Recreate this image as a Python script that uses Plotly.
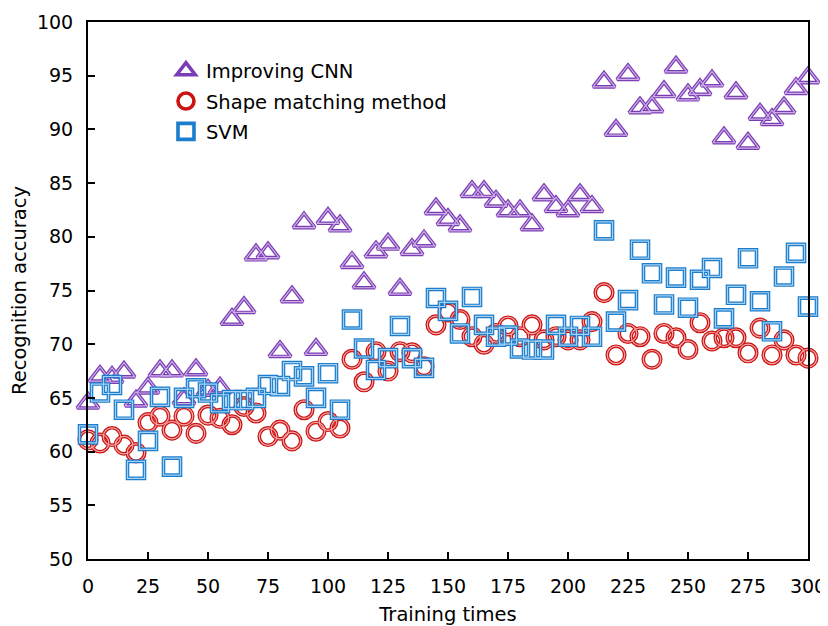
import plotly.graph_objects as go

x_vals = list(range(0, 301, 5))

cnn = [64.5, 67.0, 66.9, 67.4, 64.7, 65.9, 67.5, 67.5, 64.9, 67.6, 65.7, 65.9,
       72.3, 73.4, 78.3, 78.5, 69.3, 74.4, 81.3, 69.5, 81.7, 81.0, 77.6, 75.7,
       78.6, 79.3, 75.1, 78.8, 79.6, 82.6, 81.6, 81.0, 84.2, 84.2, 83.3, 82.4,
       82.4, 81.1, 83.9, 82.8, 82.4, 83.9, 82.8, 94.4, 89.9, 95.1, 92.0, 92.1,
       93.5, 95.8, 93.2, 93.7, 94.5, 89.2, 93.4, 88.7, 91.4, 90.9, 92.0, 93.8, 94.8]

shape = [61.1, 60.8, 61.4, 60.6, 59.9, 62.7, 63.3, 62.0, 63.3, 61.7, 63.4, 63.1,
         62.5, 64.2, 63.6, 61.4, 62.0, 61.0, 63.9, 61.9, 62.8, 62.2, 68.6, 66.5,
         69.3, 67.5, 69.3, 69.2, 67.9, 71.8, 73.0, 72.3, 70.7, 70.0, 71.0, 71.7,
         70.7, 71.8, 70.4, 70.7, 70.4, 70.4, 72.1, 74.8, 69.0, 71.0, 70.7, 68.6,
         71.0, 70.6, 69.5, 72.0, 70.3, 70.6, 70.6, 69.2, 71.5, 69.0, 70.4, 69.0, 68.7]

svm = [61.6, 65.5, 66.2, 63.9, 58.3, 61.0, 65.1, 58.6, 65.0, 65.9, 65.5, 64.5,
       64.8, 64.8, 65.0, 66.2, 66.1, 67.5, 67.0, 65.0, 67.3, 63.9, 72.3, 69.6,
       67.6, 68.7, 71.7, 68.7, 67.8, 74.3, 73.1, 71.0, 74.4, 71.8, 70.7, 70.8,
       69.6, 69.5, 69.5, 71.8, 70.7, 71.7, 70.7, 80.6, 72.1, 74.1, 78.8, 76.6,
       73.7, 76.2, 73.4, 76.0, 77.1, 72.4, 74.6, 78.0, 74.0, 71.2, 76.3, 78.5, 73.5]

series = [
    ("Improving CNN", cnn, "triangle-up-open", 19, "#7B3DB5", "#CDB0E6"),
    ("Shape matching method", shape, "circle-open", 17.5, "#CC1212", "#F4A8A8"),
    ("SVM", svm, "square-open", 17, "#1B7DCB", "#A6D0F2"),
]

x_ticks = list(range(0, 301, 25))
y_ticks = list(range(50, 101, 5))

FONT = "DejaVu Sans"

fig = go.Figure()
for i, (name, vals, sym, size, dark, light) in enumerate(series):
    fig.add_trace(go.Scatter(
        x=x_vals, y=vals, mode="markers", name=name,
        legendgroup=name, legendrank=i,
        marker=dict(symbol=sym, size=size, color=dark, line=dict(width=3.6, color=dark)),
        cliponaxis=False,
    ))
    fig.add_trace(go.Scatter(
        x=x_vals, y=vals, mode="markers", name=name,
        legendgroup=name, showlegend=False,
        marker=dict(symbol=sym, size=size, color=light, line=dict(width=1.2, color=light)),
        cliponaxis=False, hoverinfo="skip",
    ))

axis_common = dict(
    showgrid=False, zeroline=False, showline=True, linecolor="black", linewidth=2,
    mirror=True, ticks="inside", ticklen=7, tickwidth=1.5, tickcolor="black",
    tickfont=dict(family=FONT, size=19, color="black"), automargin=False,
)

fig.update_xaxes(range=[0, 300], tickvals=x_ticks, ticktext=[str(t) for t in x_ticks],
                 ticklabelstandoff=9,
                 title=dict(text="Training times", font=dict(family=FONT, size=19.5, color="black"), standoff=22),
                 **axis_common)
fig.update_yaxes(range=[50, 100], tickvals=y_ticks, ticktext=[str(t) for t in y_ticks],
                 ticklabelstandoff=9,
                 title=dict(text="Recognition accuracy", font=dict(family=FONT, size=19.5, color="black"), standoff=13),
                 **axis_common)

# The page body has an 8px margin, so the figure is sized and padded to place
# the plot area where the reference has it.
fig.update_layout(
    width=820, height=618,
    margin=dict(l=80, r=20, t=14, b=67),
    paper_bgcolor="white", plot_bgcolor="white",
    font=dict(family=FONT, size=19, color="black"),
    legend=dict(x=0.1083, y=0.945, xanchor="left", yanchor="top",
                bgcolor="rgba(0,0,0,0)", borderwidth=0,
                font=dict(family=FONT, size=19.5, color="black"),
                tracegroupgap=2, traceorder="grouped"),
    showlegend=True,
)

fig.write_html("out.html")
